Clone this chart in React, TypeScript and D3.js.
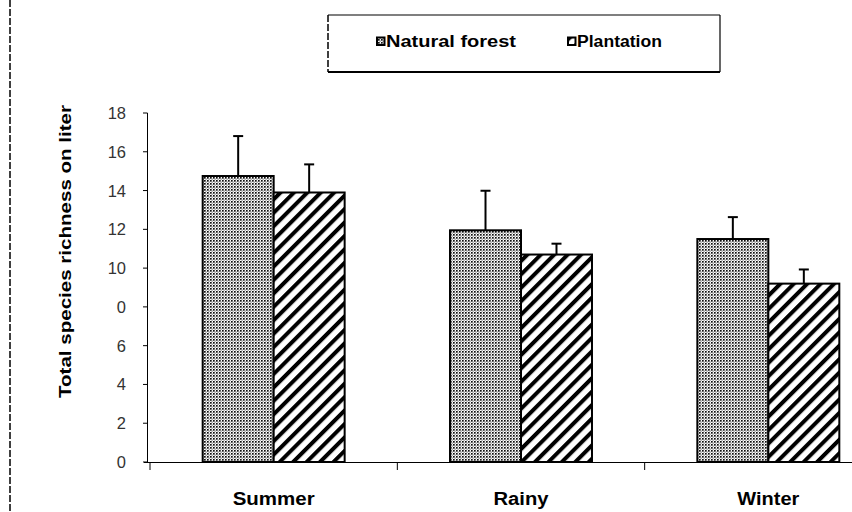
import React from 'react'
import * as d3 from 'd3'

const categories = ['Summer', 'Rainy', 'Winter']
const seriesNames = ['Natural forest', 'Plantation']
const naturalForest = [14.75, 11.95, 11.5]
const plantation = [13.9, 10.7, 9.2]
const naturalErr = [2.06, 2.04, 1.13]
const plantationErr = [1.45, 0.56, 0.73]
const tickValues = [0, 2, 4, 6, 8, 10, 12, 14, 16, 18]
const tickLabels = ['0', '2', '4', '6', '0', '10', '12', '14', '16', '18']

const W = 852
const H = 512
const font = '"Liberation Sans", Arial, sans-serif'

const App = () => {
    const x0 = d3.scaleBand().domain(categories).range([150, 892]).padding(0)
    const y = d3.scaleLinear().domain([0, 18]).range([462, 113])
    const barW = x0.bandwidth() * 0.287
    const fills = ['url(#dots)', 'url(#stripes)']
    const values = [naturalForest, plantation]
    const errs = [naturalErr, plantationErr]

    return (
        <svg width={W} height={H} style={{ position: 'absolute', left: 0, top: 0, background: '#fff' }}>
            <defs>
                <pattern id="dots" width="3" height="3" patternUnits="userSpaceOnUse">
                    <rect width="3" height="3" fill="#fff" />
                    <rect x="0" y="0" width="1.7" height="1.7" fill="#111" />
                    <rect x="1.5" y="1.5" width="1.3" height="1.3" fill="#888" />
                </pattern>
                <pattern id="stripes" width="9.5" height="10" patternUnits="userSpaceOnUse" patternTransform="rotate(45)">
                    <rect width="9.5" height="10" fill="#fff" />
                    <rect x="0" y="0" width="4" height="10" fill="#000" />
                </pattern>
            </defs>

            {/* left dashed frame */}
            <line x1={10} x2={10} y1={0} y2={H} stroke="#000" strokeWidth={1.5} strokeDasharray="7 2" />

            {/* legend box */}
            <line x1={328} x2={328} y1={15} y2={72} stroke="#000" strokeWidth={1.5} strokeDasharray="7 2" />
            <line x1={328} x2={720} y1={15} y2={15} stroke="#000" strokeWidth={1.2} />
            <line x1={720} x2={720} y1={15} y2={72} stroke="#000" strokeWidth={1.2} />
            <line x1={328} x2={720} y1={72} y2={72} stroke="#000" strokeWidth={2} />
            {seriesNames.map((s, i) => {
                const lx = i === 0 ? 377 : 568
                const tl = i === 0 ? 130 : 85
                return (
                    <g key={s}>
                        <rect x={lx} y={37.5} width={7.5} height={7.5} fill={fills[i]} stroke="#000" strokeWidth={2} />
                        <text x={lx + 9} y={47} fontFamily={font} fontWeight="bold" fontSize={16}
                            textLength={tl} lengthAdjust="spacingAndGlyphs">{s}</text>
                    </g>
                )
            })}

            {/* y axis title */}
            <text transform="translate(71,251.5) rotate(-90)" textAnchor="middle" fontFamily={font}
                fontWeight="bold" fontSize={17} textLength={293} lengthAdjust="spacingAndGlyphs">
                Total species richness on liter
            </text>

            {/* bars */}
            {categories.map((c, ci) => (
                <g key={c}>
                    {values.map((v, si) => {
                        const bx = (x0(c) as number) + x0.bandwidth() / 2 - barW + si * barW
                        const top = y(v[ci])
                        const errTop = y(v[ci] + errs[si][ci])
                        const cx = bx + barW / 2
                        return (
                            <g key={si}>
                                <line x1={cx} x2={cx} y1={top} y2={errTop} stroke="#000" strokeWidth={2} />
                                <line x1={cx - 5} x2={cx + 5} y1={errTop} y2={errTop} stroke="#000" strokeWidth={2} />
                                <rect x={bx} y={top} width={barW} height={y(0) - top} fill={fills[si]}
                                    stroke="#000" strokeWidth={2} />
                            </g>
                        )
                    })}
                </g>
            ))}

            {/* y axis */}
            <line x1={147.5} x2={147.5} y1={y(18)} y2={y(0)} stroke="#000" strokeWidth={1} />
            {tickValues.map((t, i) => (
                <g key={t}>
                    <line x1={143} x2={147.5} y1={y(t)} y2={y(t)} stroke="#000" strokeWidth={1} />
                    <text x={126} y={y(t) + 6} textAnchor="end" fontFamily={font} fontSize={16.5} fill="#333">
                        {tickLabels[i]}
                    </text>
                </g>
            ))}

            {/* x axis */}
            <line x1={144} x2={W} y1={y(0) + 0.5} y2={y(0) + 0.5} stroke="#000" strokeWidth={1.2} />
            {categories.map(c => (
                <line key={c} x1={x0(c) as number} x2={x0(c) as number} y1={y(0)} y2={y(0) + 8}
                    stroke="#000" strokeWidth={1} />
            ))}
            {categories.map(c => (
                <text key={c} x={(x0(c) as number) + x0.bandwidth() / 2} y={505} textAnchor="middle"
                    fontFamily={font} fontWeight="bold" fontSize={18}
                    textLength={c === 'Summer' ? 82 : c === 'Rainy' ? 55 : 62} lengthAdjust="spacingAndGlyphs">
                    {c}
                </text>
            ))}
        </svg>
    )
}

export default App
